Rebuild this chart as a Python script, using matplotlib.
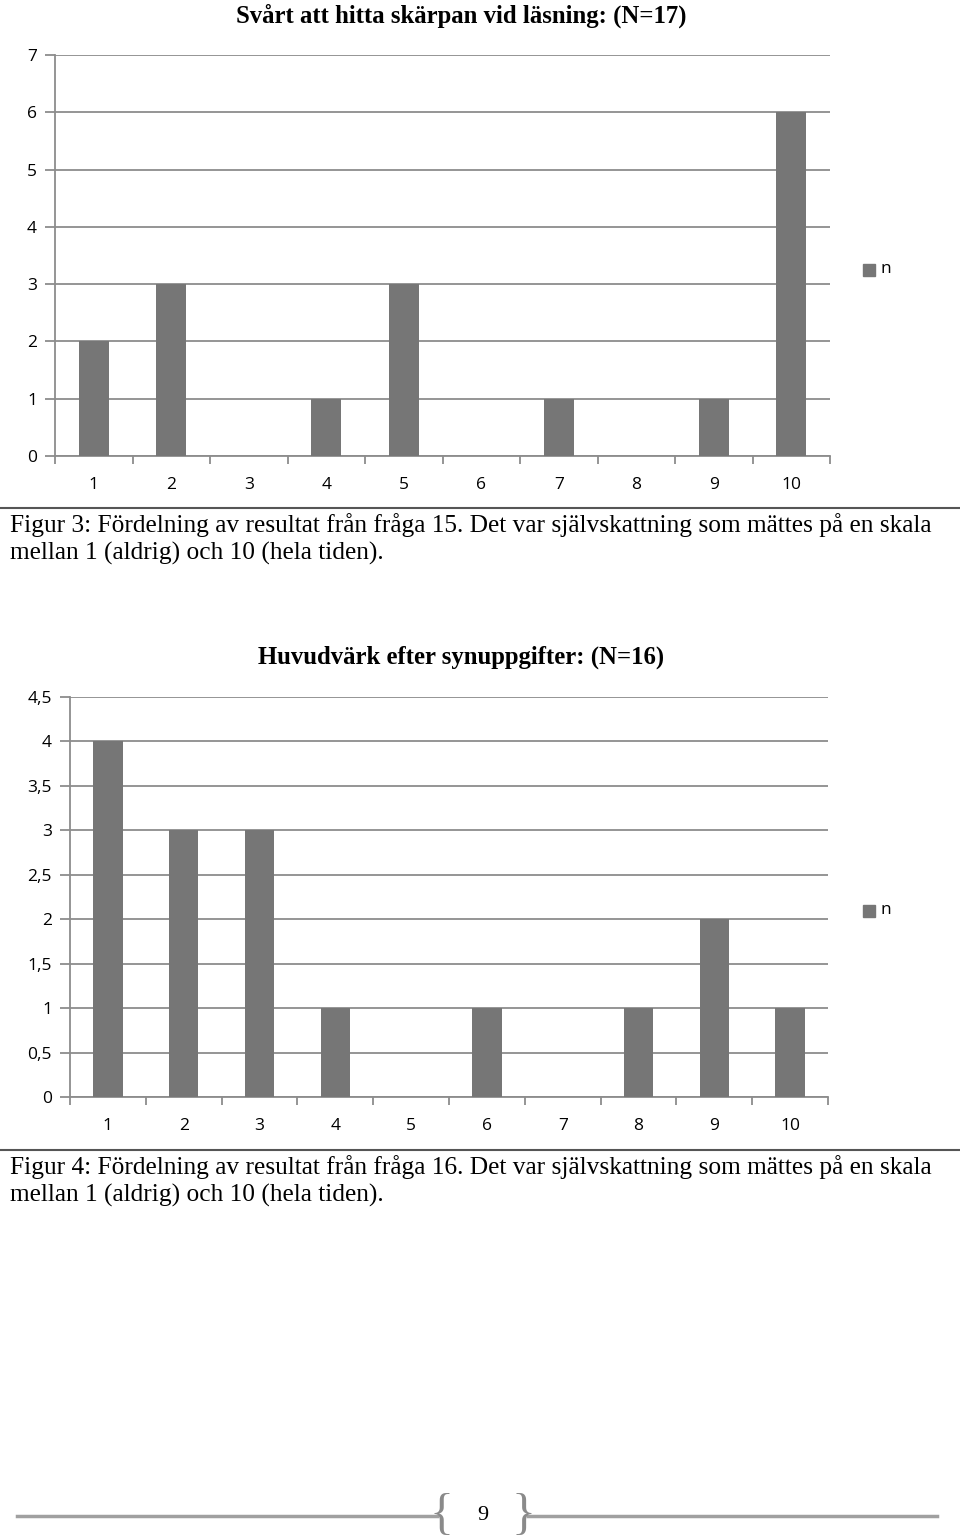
import matplotlib.pyplot as plt
import matplotlib.patches as mpatches
import numpy as np

# Data
categories = list(range(1, 11))
skarpa_n = [2, 3, 0, 1, 3, 0, 1, 0, 1, 6]
huvudvark_n = [4, 3, 3, 1, 0, 1, 0, 1, 2, 1]

skarpa_yticks = [0, 1, 2, 3, 4, 5, 6, 7]
huvudvark_yticks = [0, 0.5, 1, 1.5, 2, 2.5, 3, 3.5, 4, 4.5]
huvudvark_ylabels = ["0", "0,5", "1", "1,5", "2", "2,5", "3", "3,5", "4", "4,5"]

title_1 = "Svårt att hitta skärpan vid läsning: (N=17)"
title_2 = "Huvudvärk efter synuppgifter: (N=16)"
caption_1 = ["Figur 3: Fördelning av resultat från fråga 15. Det var självskattning som mättes på en skala",
             "mellan 1 (aldrig) och 10 (hela tiden)."]
caption_2 = ["Figur 4: Fördelning av resultat från fråga 16. Det var självskattning som mättes på en skala",
             "mellan 1 (aldrig) och 10 (hela tiden)."]

W, H = 960, 1540
BAR = "#767676"
GRID = "#8c8c8c"
SANS = ["Open Sans", "DejaVu Sans"]
SERIF = ["Liberation Serif", "DejaVu Serif"]

fig = plt.figure(figsize=(W / 100, H / 100), dpi=100)


def px_axes(left, top, right, bottom):
    return fig.add_axes([left / W, 1 - bottom / H, (right - left) / W, (bottom - top) / H])


def bar_chart(ax, values, yticks, ylabels, ymax):
    ax.bar(categories, values, width=0.39, color=BAR, zorder=3)
    ax.set_xlim(0.5, 10.5)
    ax.set_ylim(0, ymax)
    ax.set_yticks(yticks)
    ax.set_yticklabels(ylabels, fontsize=12.5, family=SANS)
    ax.yaxis.grid(True, color=GRID, linewidth=1.3, zorder=0)
    ax.tick_params(axis="y", length=7, color=GRID, width=1.3, pad=6)
    # category ticks sit on the boundaries, labels in the middle
    ax.set_xticks(np.arange(0.5, 11, 1))
    ax.set_xticklabels([])
    ax.set_xticks(categories, minor=True)
    ax.set_xticklabels([str(c) for c in categories], minor=True, fontsize=12.5, family=SANS)
    ax.tick_params(axis="x", which="major", length=6, color=GRID, width=1.3)
    ax.tick_params(axis="x", which="minor", length=0, pad=15)
    for s in ["top", "right"]:
        ax.spines[s].set_visible(False)
    for s in ["left", "bottom"]:
        ax.spines[s].set_color(GRID)
        ax.spines[s].set_linewidth(1.3)


def legend_n(y):
    fig.patches.append(mpatches.Rectangle((863 / W, 1 - (y + 6) / H), 12 / W, 12 / H,
                                          transform=fig.transFigure, color=BAR))
    fig.text(880 / W, 1 - (y - 1) / H, "n", fontsize=12.5, family=SANS, va="center")


ax1 = px_axes(55, 55, 830, 456)
bar_chart(ax1, skarpa_n, skarpa_yticks, [str(t) for t in skarpa_yticks], 7)
fig.text(461 / W, 1 - 16 / H, title_1, fontsize=17.8, weight="bold", family=SERIF,
         ha="center", va="center")
legend_n(270)

ax2 = px_axes(70, 697, 828, 1097)
bar_chart(ax2, huvudvark_n, huvudvark_yticks, huvudvark_ylabels, 4.5)
fig.text(461 / W, 1 - 657 / H, title_2, fontsize=17.8, weight="bold", family=SERIF,
         ha="center", va="center")
legend_n(911)

# separator lines and captions
for line_y, caption in [(508, caption_1), (1150, caption_2)]:
    fig.add_artist(plt.Line2D([0, 1], [1 - line_y / H] * 2, color="#555555", linewidth=1.5))
    for i, txt in enumerate(caption):
        fig.text(10 / W, 1 - (line_y + 17 + i * 28) / H, txt, fontsize=18.3, family=SERIF,
                 va="center")

# page footer
foot_y = 1 - 1516 / H
fig.add_artist(plt.Line2D([17 / W, 437 / W], [foot_y] * 2, color="#a0a0a0", linewidth=2.5))
fig.add_artist(plt.Line2D([528 / W, 937 / W], [foot_y] * 2, color="#a0a0a0", linewidth=2.5))
fig.text(441 / W, foot_y, "{", fontsize=36, color="#8a8a8a", ha="center", va="center", family=SERIF)
fig.text(524 / W, foot_y, "}", fontsize=36, color="#8a8a8a", ha="center", va="center", family=SERIF)
fig.text(483 / W, foot_y, "9", fontsize=16, ha="center", va="center", family=SERIF)

fig.savefig("out.png", dpi=100)
